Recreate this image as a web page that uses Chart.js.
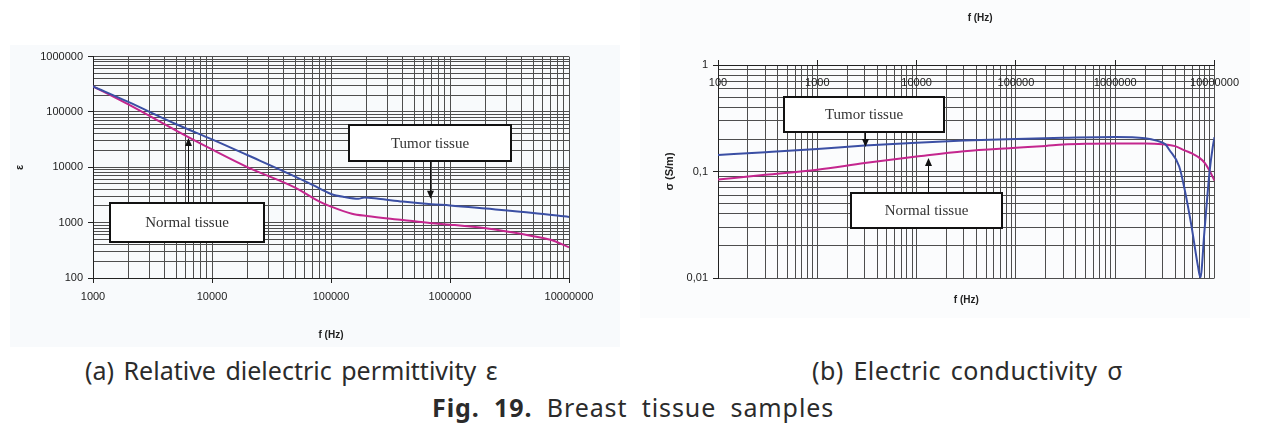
<!DOCTYPE html>
<html>
<head>
<meta charset="utf-8">
<script src="https://cdn.jsdelivr.net/npm/chart.js@4.4.0/dist/chart.umd.min.js"></script>
<style>
  body { margin: 0; background: #fff; }
  #page { position: relative; width: 1261px; height: 425px; overflow: hidden; }
  #wrapA { position: absolute; left: 10px; top: 45px; }
  #wrapB { position: absolute; left: 640px; top: 0px; }
  .cap { position: absolute; font-family: "Noto Sans", sans-serif; font-size: 25px; color: #2b2b2b;
         letter-spacing: 0px; word-spacing: 3px; white-space: nowrap; line-height: 30px; }
</style>
</head>
<body>
<div id="page">
  <div id="wrapA"><canvas id="chartA" width="610" height="302"></canvas></div>
  <div id="wrapB"><canvas id="chartB" width="610" height="318"></canvas></div>
  <div class="cap" style="left:85px; top:355px;">(a) Relative dielectric permittivity ε</div>
  <div class="cap" style="left:812px; top:355px; letter-spacing:0.4px;">(b) Electric conductivity σ</div>
  <div class="cap" style="left:432px; top:392px; letter-spacing:0.9px; word-spacing:7px;"><b>Fig. 19.</b> Breast tissue samples</div>
</div>
<script>
// (a) relative permittivity
const freqTumorA = [1000, 2000, 5000, 10000, 20000, 50000, 70000, 100000, 130000, 170000, 190000, 250000, 400000, 700000, 1000000, 2000000, 5000000, 10000000];
const epsTumor   = [290000, 150000, 60000, 32000, 16500, 6800, 4800, 3300, 2900, 2700, 2850, 2700, 2400, 2150, 2050, 1800, 1500, 1270];
const freqNormalA = [1000, 2000, 5000, 10000, 20000, 50000, 80000, 100000, 150000, 200000, 400000, 700000, 1000000, 2000000, 3000000, 5000000, 7000000, 10000000];
const epsNormal   = [290000, 135000, 46000, 21000, 10000, 4300, 2400, 1950, 1450, 1320, 1120, 980, 920, 790, 690, 570, 490, 360];

// (b) conductivity
const freqTumorB = [100, 300, 1000, 3000, 10000, 30000, 100000, 300000, 1000000, 2000000, 2600000, 3200000, 3500000, 4400000, 5000000, 5850000, 6800000, 7200000, 7900000, 8900000, 9600000, 10000000];
const sigmaTumor = [0.143, 0.152, 0.163, 0.175, 0.186, 0.195, 0.202, 0.207, 0.211, 0.205, 0.195, 0.18, 0.16, 0.112, 0.068, 0.031, 0.013, 0.0101, 0.027, 0.098, 0.17, 0.21];
const freqNormalB = [100, 300, 1000, 3000, 10000, 30000, 100000, 200000, 300000, 500000, 1000000, 2000000, 3000000, 4000000, 5000000, 6000000, 7000000, 8000000, 9000000, 10000000];
const sigmaNormal = [0.084, 0.093, 0.104, 0.12, 0.138, 0.155, 0.167, 0.174, 0.179, 0.182, 0.183, 0.183, 0.18, 0.173, 0.158, 0.147, 0.135, 0.12, 0.1, 0.082];

// tick labels
const freqTicksA = [1000, 10000, 100000, 1000000, 10000000];
const freqLabelsA = ['1000', '10000', '100000', '1000000', '10000000'];
const epsTicks = [100, 1000, 10000, 100000, 1000000];
const epsLabels = ['100', '1000', '10000', '100000', '1000000'];
const freqTicksB = [100, 1000, 10000, 100000, 1000000, 10000000];
const freqLabelsB = ['100', '1000', '10000', '100000', '1000000', '10000000'];
const sigmaTicks = [0.01, 0.1, 1];
const sigmaLabels = ['0,01', '0,1', '1'];

// text boxes with arrows, in data units
const notesA = [
    { text: 'Tumor tissue', x1: 141600, x2: 3260000, y1: 57800, y2: 13100, ax: 680000, from: 'bottom', tip: 2700 },
    { text: 'Normal tissue', x1: 1390, x2: 27350, y1: 2310, y2: 443, ax: 6280, from: 'top', tip: 33800 }
];
const notesB = [
    { text: 'Tumor tissue', x1: 457, x2: 19050, y1: 0.50, y2: 0.235, ax: 3020, from: 'bottom', tip: 0.17 },
    { text: 'Normal tissue', x1: 2190, x2: 72400, y1: 0.063, y2: 0.0295, ax: 12900, from: 'top', tip: 0.134 }
];

const blue = '#3b4fa4';
const magenta = '#c4268e';
const gridColor = '#4e4e4e';
const axisFont = { family: '"Liberation Sans", Arial, sans-serif', size: 11 };

function pts(xs, ys) {
    return xs.map((x, i) => ({ x: x, y: ys[i] }));
}

function isDecade(v) {
    const l = Math.log10(v);
    return Math.abs(l - Math.round(l)) < 1e-6;
}

// 1..9 x 10^n ticks so every minor grid line is drawn
function logTicks(scale) {
    const min = scale.options.min, max = scale.options.max;
    const out = [];
    for (let e = Math.floor(Math.log10(min)); e <= Math.ceil(Math.log10(max)); e++) {
        for (let m = 1; m <= 9; m++) {
            const v = parseFloat((m * Math.pow(10, e)).toPrecision(6));
            if (v >= min * 0.999 && v <= max * 1.001) out.push({ value: v });
        }
    }
    scale.ticks = out;
}

function labeller(vals, labels) {
    return function(value) {
        const i = vals.findIndex(t => Math.abs(t - value) / t < 1e-6);
        return i >= 0 ? labels[i] : '';
    };
}

function gridOpts() {
    return {
        color: gridColor,
        lineWidth: 1,
        tickLength: 5,
        tickColor: ctx => (ctx.tick && isDecade(ctx.tick.value)) ? '#222' : 'rgba(0,0,0,0)'
    };
}

const notesPlugin = {
    id: 'notes',
    afterDatasetsDraw(chart) {
        const notes = chart.options.plugins.notes.items;
        const { ctx } = chart;
        const xs = chart.scales.x, ys = chart.scales.y;
        ctx.save();
        notes.forEach(n => {
            const l = Math.round(xs.getPixelForValue(n.x1));
            const r = Math.round(xs.getPixelForValue(n.x2));
            const t = Math.round(ys.getPixelForValue(n.y1));
            const b = Math.round(ys.getPixelForValue(n.y2));
            const ax = Math.round(xs.getPixelForValue(n.ax)) + 0.5;
            const start = n.from === 'top' ? t : b;
            const tip = ys.getPixelForValue(n.tip);
            const dir = tip > start ? 1 : -1;
            ctx.strokeStyle = '#111';
            ctx.lineWidth = 1;
            ctx.beginPath();
            ctx.moveTo(ax, start);
            ctx.lineTo(ax, tip - dir * 6);
            ctx.stroke();
            ctx.fillStyle = '#111';
            ctx.beginPath();
            ctx.moveTo(ax, tip);
            ctx.lineTo(ax - 3.5, tip - dir * 8);
            ctx.lineTo(ax + 3.5, tip - dir * 8);
            ctx.closePath();
            ctx.fill();
            ctx.fillStyle = '#fff';
            ctx.fillRect(l, t, r - l, b - t);
            ctx.lineWidth = 2;
            ctx.strokeStyle = '#111';
            ctx.strokeRect(l, t, r - l, b - t);
            ctx.fillStyle = '#333';
            ctx.font = '15px "Liberation Serif", "Times New Roman", serif';
            ctx.textAlign = 'center';
            ctx.textBaseline = 'middle';
            ctx.fillText(n.text, (l + r) / 2, (t + b) / 2 + 1);
        });
        ctx.restore();
    }
};

const bgPlugin = {
    id: 'bg',
    beforeDraw(chart) {
        const c = chart.ctx;
        c.save();
        c.fillStyle = chart.options.plugins.bg.color;
        c.fillRect(0, 0, chart.width, chart.height);
        c.restore();
    }
};

function lineSet(label, data, color) {
    return {
        label: label,
        data: data,
        borderColor: color,
        backgroundColor: color,
        borderWidth: 2,
        pointRadius: 0,
        fill: false,
        cubicInterpolationMode: 'monotone'
    };
}

// chart (a)
new Chart(document.getElementById('chartA'), {
    type: 'line',
    data: {
        datasets: [
            lineSet('Tumor tissue', pts(freqTumorA, epsTumor), blue),
            lineSet('Normal tissue', pts(freqNormalA, epsNormal), magenta)
        ]
    },
    options: {
        responsive: false,
        animation: false,
        layout: { padding: { left: 0, top: 10, right: 51, bottom: 0 } },
        plugins: {
            legend: { display: false },
            tooltip: { enabled: false },
            notes: { items: notesA },
            bg: { color: '#f8fafc' }
        },
        scales: {
            x: {
                type: 'logarithmic',
                min: 1000,
                max: 10000000,
                afterBuildTicks: logTicks,
                afterFit: s => { s.height = 69; },
                grid: gridOpts(),
                border: { color: '#222', width: 1 },
                ticks: { autoSkip: false, maxRotation: 0, padding: 7, color: '#222', font: axisFont,
                         callback: labeller(freqTicksA, freqLabelsA) },
                title: { display: true, text: 'f (Hz)', color: '#222', padding: { top: 0, bottom: 6 },
                         font: { family: axisFont.family, size: 10, weight: 'bold' } }
            },
            y: {
                type: 'logarithmic',
                min: 100,
                max: 1000000,
                afterBuildTicks: logTicks,
                afterFit: s => { s.width = 83; },
                grid: gridOpts(),
                border: { color: '#222', width: 1 },
                ticks: { autoSkip: false, padding: 5, color: '#222', font: axisFont,
                         callback: labeller(epsTicks, epsLabels) },
                title: { display: true, text: 'ε', color: '#222', padding: { top: 3, bottom: 0 },
                         font: { family: axisFont.family, size: 11, weight: 'bold' } }
            }
        }
    },
    plugins: [bgPlugin, notesPlugin]
});

// chart (b): frequency labels sit just inside the top edge
new Chart(document.getElementById('chartB'), {
    type: 'line',
    data: {
        datasets: [
            lineSet('Tumor tissue', pts(freqTumorB, sigmaTumor), blue),
            lineSet('Normal tissue', pts(freqNormalB, sigmaNormal), magenta)
        ]
    },
    options: {
        responsive: false,
        animation: false,
        layout: { padding: { left: 0, top: 0, right: 32, bottom: 0 } },
        plugins: {
            legend: { display: false },
            tooltip: { enabled: false },
            notes: { items: notesB },
            bg: { color: '#fbfcfd' }
        },
        scales: {
            x: {
                type: 'logarithmic',
                position: 'top',
                min: 100,
                max: 10000000,
                afterBuildTicks: logTicks,
                afterFit: s => { s.height = 65; },
                grid: gridOpts(),
                border: { color: '#222', width: 1 },
                ticks: { autoSkip: false, maxRotation: 0, mirror: true, padding: 11, color: '#222', font: axisFont,
                         callback: labeller(freqTicksB, freqLabelsB) },
                title: { display: true, text: '\u00a0\u00a0\u00a0\u00a0\u00a0\u00a0\u00a0\u00a0\u00a0\u00a0f (Hz)', color: '#222',
                         padding: { top: 12, bottom: 0 },
                         font: { family: axisFont.family, size: 10, weight: 'bold' } }
            },
            x2: {
                type: 'logarithmic',
                position: 'bottom',
                min: 100,
                max: 10000000,
                afterFit: s => { s.height = 40; },
                grid: { display: false },
                border: { display: false },
                ticks: { display: false },
                title: { display: true, text: 'f (Hz)', color: '#222', padding: { top: 0, bottom: 12 },
                         font: { family: axisFont.family, size: 10, weight: 'bold' } }
            },
            y: {
                type: 'logarithmic',
                min: 0.01,
                max: 1,
                afterBuildTicks: logTicks,
                afterFit: s => { s.width = 78; },
                grid: gridOpts(),
                border: { color: '#222', width: 1 },
                ticks: { autoSkip: false, padding: 5, color: '#222', font: axisFont,
                         callback: labeller(sigmaTicks, sigmaLabels) },
                title: { display: true, text: 'σ (S/m)', color: '#222', padding: { top: 23, bottom: 0 },
                         font: { family: axisFont.family, size: 11, weight: 'bold' } }
            }
        }
    },
    plugins: [bgPlugin, notesPlugin]
});
</script>
</body>
</html>
